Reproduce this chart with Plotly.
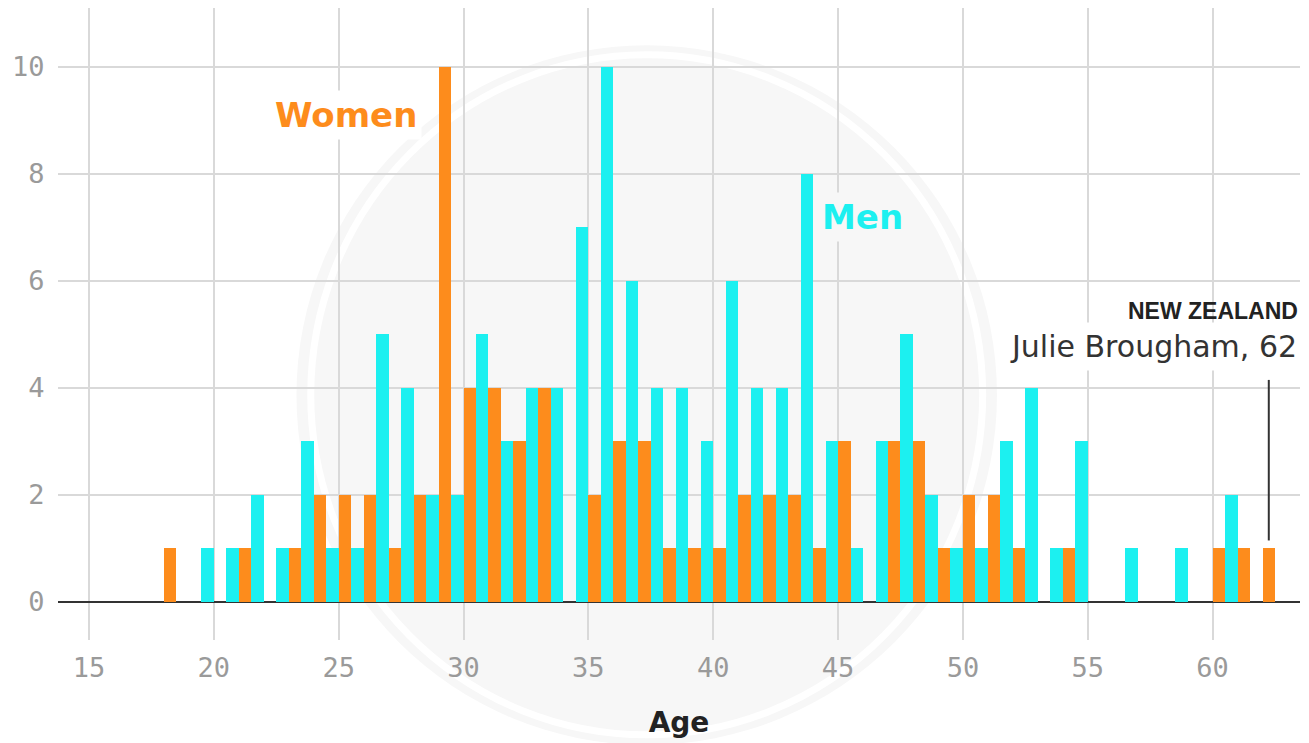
import plotly.graph_objects as go

ages = list(range(18, 63))
men = [0, 0, 1, 1, 2, 1, 3, 1, 1, 5, 4, 2, 2, 5, 3, 4, 4, 7, 10, 6, 4, 4, 3, 6, 4, 4, 8, 3, 1, 3, 5, 2, 1, 1, 3, 4, 1, 3, 0, 1, 0, 1, 0, 2, 0]
women = [1, 0, 0, 1, 0, 1, 2, 2, 2, 1, 2, 10, 4, 4, 3, 4, 0, 2, 3, 3, 1, 1, 1, 2, 2, 2, 1, 3, 0, 3, 3, 1, 2, 2, 1, 0, 1, 0, 0, 0, 0, 0, 1, 1, 1]
x_ticks = [15, 20, 25, 30, 35, 40, 45, 50, 55, 60]
y_ticks = [0, 2, 4, 6, 8, 10]

ORANGE = "#fd8c1c"
CYAN = "#1cf0f0"
WM = "#f7f7f7"

fig = go.Figure()
fig.add_trace(go.Bar(x=ages, y=men, width=0.5, offset=-0.5, marker=dict(color=CYAN, line=dict(width=0)), name="Men"))
fig.add_trace(go.Bar(x=ages, y=women, width=0.5, offset=0, marker=dict(color=ORANGE, line=dict(width=0)), name="Women"))

# watermark circle
fig.add_shape(type="circle", xref="paper", yref="paper", x0=0.192, x1=0.756, y0=-0.166, y1=0.941,
              fillcolor=WM, line=dict(width=0), layer="below")
fig.add_shape(type="circle", xref="paper", yref="paper", x0=0.2035, x1=0.7445, y0=-0.150, y1=0.926,
              fillcolor="rgba(0,0,0,0)", line=dict(color="#ffffff", width=7), layer="below")

# annotation line
fig.add_shape(type="line", x0=62.25, x1=62.25, y0=1.15, y1=4.15, line=dict(color="#333333", width=2))

fig.add_annotation(x=25.3, y=9.1, text="<b>Women</b>", showarrow=False,
                   font=dict(family="DejaVu Sans", size=34, color=ORANGE), bgcolor="#ffffff", borderpad=4)
fig.add_annotation(x=45.97, y=7.2, text="<b>Men</b>", showarrow=False,
                   font=dict(family="DejaVu Sans", size=34, color=CYAN), bgcolor=WM, borderpad=4)
fig.add_annotation(x=63.45, y=5.43, xanchor="right", xshift=1, text="<b>NEW ZEALAND</b>", showarrow=False,
                   font=dict(family="Liberation Sans", size=23, color="#222222"))
fig.add_annotation(x=63.45, y=4.77, xanchor="right", xshift=5, text="Julie Brougham, 62", showarrow=False,
                   font=dict(family="DejaVu Sans", size=30, color="#333333"), bgcolor="#ffffff", borderpad=6)

fig.update_layout(
    width=1301, height=735,
    margin=dict(l=50, r=9, t=0, b=103),
    paper_bgcolor="#ffffff", plot_bgcolor="rgba(0,0,0,0)",
    showlegend=False, barmode="overlay", bargap=0,
    xaxis=dict(range=[13.76, 63.5], tickvals=x_ticks, showgrid=True, gridcolor="#d9d9d9", gridwidth=2,
               zeroline=False, ticks="outside", ticklen=4, tickcolor="rgba(0,0,0,0)", automargin=False,
               tickfont=dict(family="DejaVu Sans Mono", size=27, color="#9a9a9a"),
               title=dict(text="<b>Age</b>", font=dict(family="DejaVu Sans", size=28, color="#222222"), standoff=29)),
    yaxis=dict(range=[-0.71, 11.1], tickvals=y_ticks, showgrid=True, gridcolor="#d9d9d9", gridwidth=2,
               zeroline=True, zerolinecolor="#333333", zerolinewidth=2, ticks="outside", ticklen=7,
               tickcolor="rgba(0,0,0,0)", automargin=False,
               tickfont=dict(family="DejaVu Sans Mono", size=27, color="#9a9a9a")),
)

fig.write_html("out.html")
